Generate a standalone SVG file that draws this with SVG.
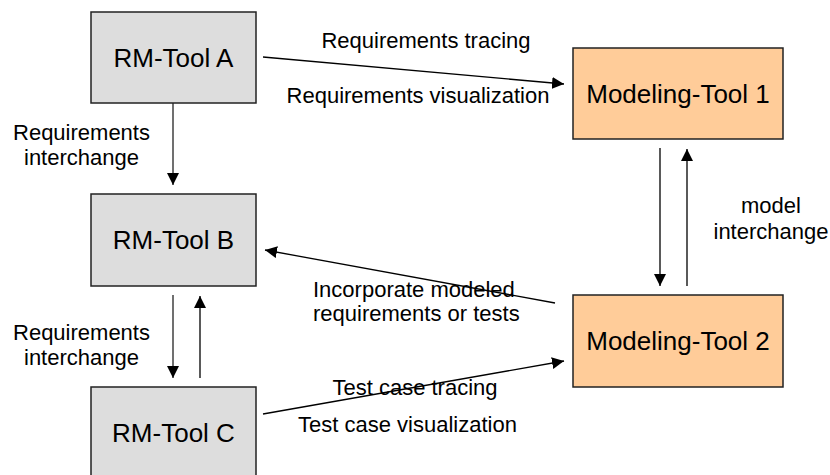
<svg xmlns="http://www.w3.org/2000/svg" width="830" height="475" viewBox="0 0 830 475">
  <style>
    .rm { fill: #DDDDDD; stroke: #222222; stroke-width: 1.5; }
    .mt { fill: #FFCC99; stroke: #222222; stroke-width: 1.5; }
    .nt { font-family: "Liberation Sans", Arial, sans-serif; font-size: 26px; fill: #000; text-anchor: middle; }
    .lb { font-family: "Liberation Sans", Arial, sans-serif; font-size: 22px; fill: #000; }
    .c { text-anchor: middle; }
    .ln { stroke: #000; stroke-width: 1.3; fill: none; marker-end: url(#ah); }
    .lg { stroke: #404040; stroke-width: 1.5; fill: none; marker-end: url(#ah); }
  </style>
  <defs>
    <marker id="ah" markerUnits="userSpaceOnUse" viewBox="0 0 12 12" refX="12" refY="6" markerWidth="12" markerHeight="12" orient="auto">
      <path d="M0,0 L12,6 L0,12 z" fill="#000"/>
    </marker>
  </defs>
  <rect width="830" height="475" fill="#FFFFFF"/>

  <g id="connectors">
    <line class="lg" x1="173" y1="103" x2="173" y2="185"/>
    <line class="lg" x1="173" y1="295" x2="173" y2="378"/>
    <line class="ln" x1="200" y1="378" x2="200" y2="296"/>
    <line class="ln" x1="263" y1="57" x2="564" y2="84"/>
    <line class="ln" x1="660" y1="148" x2="660" y2="286"/>
    <line class="ln" x1="687" y1="286" x2="687" y2="149"/>
    <line class="ln" x1="555" y1="303" x2="265" y2="250"/>
    <line class="ln" x1="263" y1="414" x2="564" y2="361"/>
  </g>

  <g id="labels">
    <text class="lb c" x="426" y="48">Requirements tracing</text>
    <text class="lb c" x="418" y="103">Requirements visualization</text>
    <text class="lb c" x="81.5" y="140">Requirements</text>
    <text class="lb c" x="81.5" y="165">interchange</text>
    <text class="lb c" x="81.5" y="340">Requirements</text>
    <text class="lb c" x="81.5" y="365">interchange</text>
    <text class="lb c" x="771" y="213">model</text>
    <text class="lb c" x="771" y="239">interchange</text>
    <text class="lb" x="313" y="297">Incorporate modeled</text>
    <text class="lb" x="313" y="321">requirements or tests</text>
    <text class="lb c" x="415" y="395">Test case tracing</text>
    <text class="lb c" x="407.5" y="432">Test case visualization</text>
  </g>

  <g id="rm-tool-a">
    <rect class="rm" x="91" y="12" width="165" height="91"/>
    <text class="nt" x="173.5" y="67">RM-Tool A</text>
  </g>
  <g id="rm-tool-b">
    <rect class="rm" x="91" y="194" width="165" height="92"/>
    <text class="nt" x="173.5" y="249">RM-Tool B</text>
  </g>
  <g id="rm-tool-c">
    <rect class="rm" x="91" y="387" width="165" height="92"/>
    <text class="nt" x="173.5" y="442">RM-Tool C</text>
  </g>
  <g id="modeling-tool-1">
    <rect class="mt" x="573" y="48" width="210" height="91"/>
    <text class="nt" x="678" y="103">Modeling-Tool 1</text>
  </g>
  <g id="modeling-tool-2">
    <rect class="mt" x="573" y="295" width="210" height="92"/>
    <text class="nt" x="678" y="350">Modeling-Tool 2</text>
  </g>
</svg>
